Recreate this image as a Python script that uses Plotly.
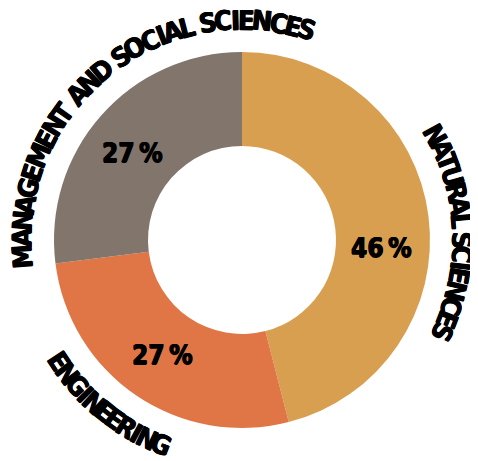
import math
import plotly.graph_objects as go

# ---- data ----
categories = ["NATURAL SCIENCES", "ENGINEERING", "MANAGEMENT AND SOCIAL SCIENCES"]
shares = [46, 27, 27]
colors = ["#D89F50", "#E07646", "#81756C"]

# ---- geometry (pixels); page body has an 8px margin ----
OFF = 8
W, H = 478 - OFF, 461 - OFF
CX, CY, R = 242 - OFF, 240 - OFF, 188
HOLE = 0.5

dom_x = [(CX - R) / W, (CX + R) / W]
dom_y = [(H - CY - R) / H, (H - CY + R) / H]

FONT = "Liberation Sans Narrow, DejaVu Sans Condensed, Roboto Condensed, Arial Narrow, sans-serif"
HEAVY = "0.6px 0 0 black, -0.6px 0 0 black, 0 0.5px 0 black"

fig = go.Figure(go.Pie(
    labels=categories,
    values=shares,
    hole=HOLE,
    sort=False,
    direction="clockwise",
    rotation=0,
    marker=dict(colors=colors, line=dict(width=0)),
    textinfo="none",
    domain=dict(x=dom_x, y=dom_y),
    hoverinfo="label+percent",
))


def pt(theta_deg, rad):
    t = math.radians(theta_deg)
    px = CX + rad * math.sin(t)
    py = CY - rad * math.cos(t)
    return px / W, 1 - py / H


annotations = []

# percentage labels inside the ring (slice mid-angle plus a small nudge)
nudge = [10.5, 0.5, -3.0]
total = sum(shares)
acc = 0
for v, dn in zip(shares, nudge):
    mid = (acc + v / 2) / total * 360
    acc += v
    x, y = pt(mid + dn, R * (1 + HOLE) / 2 - 1)
    annotations.append(dict(
        x=x, y=y, xref="paper", yref="paper", text=f"{v}\u2009%",
        showarrow=False, xanchor="center", yanchor="middle",
        font=dict(family=FONT, size=26, color="black", weight="bold", shadow=HEAVY),
    ))

# curved category labels: (start angle, end angle, center radius, reading clockwise?)
arc_specs = {
    "NATURAL SCIENCES": (61.5, 114.7, 220, True),
    "ENGINEERING": (236.4, 201.5, 220, False),
    "MANAGEMENT AND SOCIAL SCIENCES": (265.6, 377.3, 220, True),
}
cw = {"I": 0.30, "M": 0.80, "W": 0.82, " ": 0.28, "N": 0.64, "A": 0.60, "G": 0.62,
      "E": 0.52, "T": 0.52, "D": 0.64, "S": 0.54, "O": 0.66, "C": 0.58, "L": 0.48,
      "R": 0.60, "U": 0.62}

for name in categories:
    a0, a1, rad, clockwise = arc_specs[name]
    widths = [cw.get(ch, 0.6) for ch in name]
    centers = []
    s = 0
    for w in widths:
        centers.append(s + w / 2)
        s += w
    c0, c1 = centers[0], centers[-1]
    for ch, c in zip(name, centers):
        if ch == " ":
            continue
        th = a0 + (a1 - a0) * (c - c0) / (c1 - c0)
        x, y = pt(th, rad)
        ang = th if clockwise else th - 180
        ang = ((ang + 180) % 360) - 180
        annotations.append(dict(
            x=x, y=y, xref="paper", yref="paper",
            text=ch, showarrow=False, textangle=ang,
            xanchor="center", yanchor="middle",
            font=dict(family=FONT, size=27, color="black", weight="bold", shadow=HEAVY),
        ))

fig.update_layout(
    width=W, height=H,
    margin=dict(l=0, r=0, t=0, b=0),
    showlegend=False,
    paper_bgcolor="white",
    plot_bgcolor="white",
    annotations=annotations,
)

fig.write_html("out.html")
